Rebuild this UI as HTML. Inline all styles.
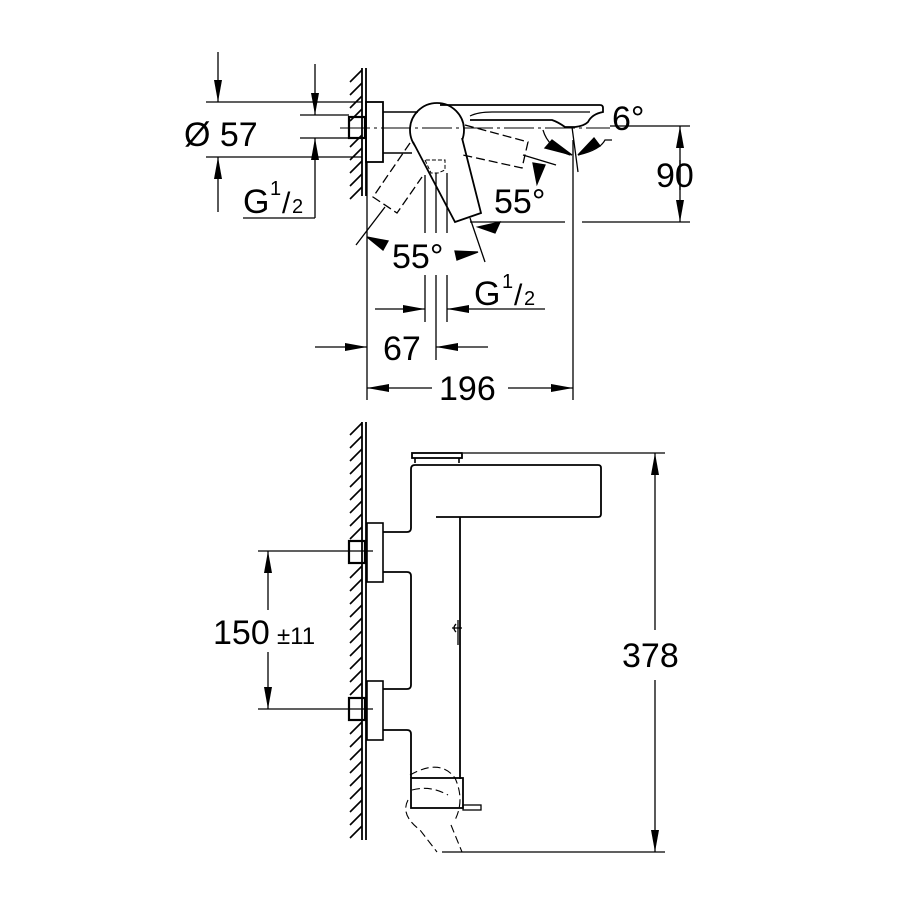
<!DOCTYPE html>
<html><head><meta charset="utf-8"><style>
html,body{margin:0;padding:0;background:#fff}
svg{display:block}
text{font-family:"Liberation Sans",Arial,sans-serif;fill:#000}
</style></head><body>
<svg width="900" height="900" viewBox="0 0 900 900" xmlns="http://www.w3.org/2000/svg">
<defs>
<marker id="a" viewBox="0 0 22 8" refX="22" refY="4" markerWidth="22" markerHeight="8" markerUnits="userSpaceOnUse" orient="auto"><path d="M0,0 L22,4 L0,8 z" fill="#000"/></marker>
</defs>
<g stroke="#000" stroke-width="1.3" fill="none">
<!-- TOP VIEW wall -->
<line x1="362" y1="68" x2="362" y2="196" stroke-width="1.8"/>
<line x1="366" y1="68" x2="366" y2="196" stroke-width="1.8"/>
<path stroke-width="1.6" d="M350,82 L362,70 M350,95 L362,83 M350,108 L362,96 M350,121 L362,109 M350,147 L362,135 M350,160 L362,148 M350,173 L362,161 M350,186 L362,174 M350,199 L362,187"/>
<rect x="366" y="102" width="17" height="60" stroke-width="1.8"/>
<rect x="349" y="117" width="16" height="21" stroke-width="2.2"/>
<line x1="383" y1="112" x2="418" y2="112" stroke-width="1.6"/>
<line x1="383" y1="153" x2="412" y2="153" stroke-width="1.6"/>
<line x1="340" y1="128" x2="610" y2="128" stroke-width="1" stroke-dasharray="30,4,3,4"/>
<!-- spout -->
<path d="M440,105 L600,105 Q603,105 603,108 L603,112 Q592,114 588,122 Q584,126 575,127 L565,127 Q558,122 552,120 L470,120" stroke-width="1.8"/>
<path d="M470,116 Q478,112 492,112 L590,112" stroke-width="1.2"/>
<circle cx="437" cy="130" r="27" stroke-width="1.8"/>
<path d="M413,142 L455,222 L481,213 L462,138" stroke-width="1.8" fill="#fff"/>
<path d="M425,160 L431,173 L438,173 L445,170 L445,160 Z" stroke-dasharray="4,2" stroke-width="1"/>
<!-- dashed rotated handles -->
<path d="M410,143 L373,197 L397,213 L422,177" stroke-dasharray="9,4" stroke-width="1.3"/>
<path d="M465,125 L528,142 L522,168 L463,155" stroke-dasharray="9,4" stroke-width="1.3"/>
<!-- vertical ext lines -->
<line x1="367" y1="162" x2="367" y2="400"/>
<line x1="425" y1="175" x2="425" y2="233"/><line x1="425" y1="275" x2="425" y2="322"/>
<line x1="436" y1="173" x2="436" y2="233"/><line x1="436" y1="275" x2="436" y2="360"/>
<line x1="447" y1="173" x2="447" y2="233"/><line x1="447" y1="275" x2="447" y2="322"/>
<line x1="573" y1="140" x2="573" y2="400"/>
<line x1="572" y1="127" x2="578" y2="172"/>
<!-- 6 deg -->
<path d="M543,130 Q548,148 570,155"/>
<path d="M578,155 Q600,150 605,140 L612,140"/>
<path d="M545,148 L572,155 L552,140 Z" fill="#000"/>
<path d="M600,146 L578,155 L594,138 Z" fill="#000"/>
<!-- 55 angles -->
<line x1="470" y1="218" x2="485" y2="262"/>
<line x1="356" y1="245" x2="385" y2="207"/>
<line x1="523" y1="155" x2="556" y2="165"/>
<path d="M537,184 L545,165 L533,163 Z" fill="#000"/>
<path d="M478,227 L500,222 L495,233 Z" fill="#000"/>
<path d="M367,237 L388,241 L383,250 Z" fill="#000"/>
<path d="M478,252 L455,251 L457,260 Z" fill="#000"/>
<!-- Ø57 -->
<line x1="206" y1="102" x2="362" y2="102"/>
<line x1="206" y1="157" x2="362" y2="157"/>
<line x1="218" y1="52" x2="218" y2="102" marker-end="url(#a)"/>
<line x1="218" y1="212" x2="218" y2="157" marker-end="url(#a)"/>
<!-- G1/2 left -->
<line x1="300" y1="115" x2="349" y2="115"/>
<line x1="300" y1="138" x2="349" y2="138"/>
<line x1="315" y1="64" x2="315" y2="115" marker-end="url(#a)"/>
<line x1="315" y1="218" x2="315" y2="138" marker-end="url(#a)"/>
<line x1="243" y1="218" x2="315" y2="218"/>
<!-- 90 -->
<line x1="610" y1="126" x2="690" y2="126"/>
<line x1="470" y1="222" x2="565" y2="222"/>
<line x1="582" y1="222" x2="690" y2="222"/>
<line x1="680" y1="190" x2="680" y2="126" marker-end="url(#a)"/>
<line x1="680" y1="160" x2="680" y2="222" marker-end="url(#a)"/>
<!-- G1/2 lower -->
<line x1="375" y1="309" x2="425" y2="309" marker-end="url(#a)"/>
<line x1="545" y1="309" x2="447" y2="309" marker-end="url(#a)"/>
<!-- 67 -->
<line x1="315" y1="347" x2="367" y2="347" marker-end="url(#a)"/>
<line x1="488" y1="347" x2="436" y2="347" marker-end="url(#a)"/>
<!-- 196 -->
<line x1="432" y1="388" x2="367" y2="388" marker-end="url(#a)"/>
<line x1="508" y1="388" x2="573" y2="388" marker-end="url(#a)"/>

<!-- BOTTOM VIEW wall -->
<line x1="362" y1="422" x2="362" y2="840" stroke-width="1.8"/>
<line x1="366" y1="422" x2="366" y2="840" stroke-width="1.8"/>
<path stroke-width="1.6" d="M350,435 L362,423 M350,448 L362,436 M350,461 L362,449 M350,474 L362,462 M350,487 L362,475 M350,500 L362,488 M350,513 L362,501 M350,526 L362,514 M350,539 L362,527 M350,578 L362,566 M350,591 L362,579 M350,604 L362,592 M350,617 L362,605 M350,630 L362,618 M350,643 L362,631 M350,656 L362,644 M350,669 L362,657 M350,682 L362,670 M350,695 L362,683 M350,734 L362,722 M350,747 L362,735 M350,760 L362,748 M350,773 L362,761 M350,786 L362,774 M350,799 L362,787 M350,812 L362,800 M350,825 L362,813 M350,838 L362,826"/>
<rect x="412" y="453" width="50" height="5" stroke-width="1.8"/>
<path d="M415,458 L415,463 M459,458 L459,463" stroke-width="1.6"/>
<path d="M383,532 L407,532 Q411,532 411,528 L411,469 Q411,465 415,465 L598,465 Q601,465 601,468 L601,514 Q601,517 598,517 L436,517" stroke-width="1.8"/>
<line x1="460" y1="517" x2="460" y2="779" stroke-width="1.8"/>
<path d="M456,624 Q452,628 456,632 M458,620 L458,645 M452,628 L462,628" stroke-width="1.3"/>
<rect x="367" y="523" width="16" height="59" stroke-width="1.6"/>
<rect x="349" y="541" width="16" height="22" stroke-width="2.2"/>
<path d="M383,572 L407,572 Q411,572 411,576 L411,685 Q411,689 407,689 L383,689" stroke-width="1.8"/>
<rect x="367" y="681" width="16" height="59" stroke-width="1.6"/>
<rect x="349" y="698" width="16" height="22" stroke-width="2.2"/>
<path d="M383,730 L407,730 Q411,730 411,734 L411,778" stroke-width="1.8"/>
<rect x="411" y="778" width="52" height="30" stroke-width="1.8"/>
<rect x="463" y="805" width="18" height="5" stroke-width="1.3"/>
<path d="M410,775 Q440,758 455,778 Q465,800 455,820 M412,790 Q430,785 448,795 M408,800 Q400,815 420,830 L437,852 M451,825 L462,852" stroke-dasharray="8,4" stroke-width="1.1"/>
<line x1="442" y1="852" x2="665" y2="852"/>
<line x1="463" y1="453" x2="665" y2="453"/>
<line x1="655" y1="630" x2="655" y2="453" marker-end="url(#a)"/>
<line x1="655" y1="680" x2="655" y2="852" marker-end="url(#a)"/>
<line x1="258" y1="551" x2="373" y2="551"/>
<line x1="258" y1="709" x2="373" y2="709"/>
<line x1="268" y1="610" x2="268" y2="551" marker-end="url(#a)"/>
<line x1="268" y1="652" x2="268" y2="709" marker-end="url(#a)"/>
</g>
<g font-size="34">
<text x="184" y="146">Ø 57</text>
<text x="243" y="213">G</text><text x="270" y="195" font-size="20">1</text><text x="282" y="213" font-size="30">/</text><text x="292" y="213" font-size="20">2</text>
<text x="612" y="130">6°</text>
<text x="656" y="187">90</text>
<text x="494" y="213">55°</text>
<text x="392" y="268">55°</text>
<text x="474" y="305">G</text><text x="502" y="288" font-size="20">1</text><text x="514" y="305" font-size="30">/</text><text x="524" y="305" font-size="20">2</text>
<text x="383" y="360">67</text>
<text x="439" y="400">196</text>
<text x="213" y="644">150</text><text x="277" y="644" font-size="24">±11</text>
<text x="622" y="667">378</text>
</g>
</svg>
</body></html>
